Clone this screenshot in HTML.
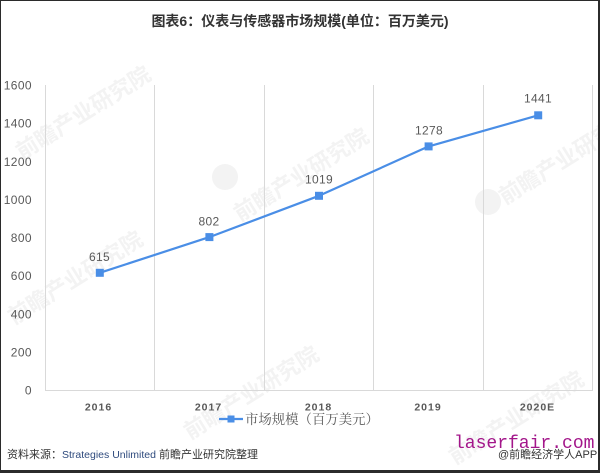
<!DOCTYPE html>
<html><head><meta charset="utf-8"><style>
html,body{margin:0;padding:0;background:#fff;}
svg{display:block;}
</style></head><body>
<svg width="600" height="473" viewBox="0 0 600 473" xmlns="http://www.w3.org/2000/svg">
<rect x="0" y="0" width="600" height="473" fill="#ffffff"/>
<!-- watermarks -->
<g fill="#f3f3f3" font-family="'Noto Sans CJK SC', sans-serif" font-weight="bold">
  <text x="0" y="0" font-size="22" transform="translate(22,160) rotate(-32)">前瞻产业研究院</text>
  <text x="0" y="0" font-size="22" transform="translate(14,325) rotate(-32)">前瞻产业研究院</text>
  <text x="0" y="0" font-size="22" transform="translate(240,222) rotate(-32)">前瞻产业研究院</text>
  <text x="0" y="0" font-size="22" transform="translate(190,440) rotate(-32)">前瞻产业研究院</text>
  <text x="0" y="0" font-size="22" transform="translate(505,205) rotate(-32)">前瞻产业研究院</text>
  <text x="0" y="0" font-size="22" transform="translate(455,465) rotate(-32)">前瞻产业研究院</text>
  <circle cx="225" cy="177" r="13"/>
  <circle cx="488" cy="202" r="13"/>
</g>
<!-- title -->
<text x="300" y="26" text-anchor="middle" font-family="'Liberation Sans','Noto Sans CJK SC',sans-serif" font-size="14" font-weight="bold" fill="#333333">图表6：仪表与传感器市场规模(单位：百万美元)</text>
<!-- gridlines -->
<g stroke="#d9d9d9" stroke-width="1">
  <line x1="45.5" y1="85" x2="45.5" y2="390"/>
  <line x1="154.5" y1="85" x2="154.5" y2="390"/>
  <line x1="264.5" y1="85" x2="264.5" y2="390"/>
  <line x1="373.5" y1="85" x2="373.5" y2="390"/>
  <line x1="483.5" y1="85" x2="483.5" y2="390"/>
  <line x1="592.5" y1="85" x2="592.5" y2="390"/>
  <line x1="45" y1="390.5" x2="593" y2="390.5"/>
</g>
<!-- y labels -->
<g font-family="'Liberation Sans',sans-serif" font-size="12" fill="#595959" text-anchor="end" letter-spacing="0.4">
  <text x="32" y="89.5">1600</text>
  <text x="32" y="127.6">1400</text>
  <text x="32" y="165.8">1200</text>
  <text x="32" y="203.9">1000</text>
  <text x="32" y="242">800</text>
  <text x="32" y="280.2">600</text>
  <text x="32" y="318.3">400</text>
  <text x="32" y="356.4">200</text>
  <text x="32" y="394.5">0</text>
</g>
<!-- x labels -->
<g font-family="'Liberation Sans',sans-serif" font-size="10.5" font-weight="bold" fill="#595959" text-anchor="middle" letter-spacing="1">
  <text x="98.5" y="410.5">2016</text>
  <text x="208.5" y="410.5">2017</text>
  <text x="318.5" y="410.5">2018</text>
  <text x="428" y="410.5">2019</text>
  <text x="537.5" y="410.5">2020E</text>
</g>
<!-- series -->
<polyline points="99.8,272.8 209.4,237.1 319,195.8 428.6,146.4 538.2,115.3" fill="none" stroke="#4a8ee6" stroke-width="2.2" stroke-linejoin="round"/>
<g fill="#4a8ee6">
  <rect x="95.8" y="268.8" width="8" height="8"/>
  <rect x="205.4" y="233.1" width="8" height="8"/>
  <rect x="315" y="191.8" width="8" height="8"/>
  <rect x="424.6" y="142.4" width="8" height="8"/>
  <rect x="534.2" y="111.3" width="8" height="8"/>
</g>
<g font-family="'Liberation Sans',sans-serif" font-size="12" fill="#595959" text-anchor="middle" letter-spacing="0.3">
  <text x="99.5" y="261">615</text>
  <text x="209" y="225.3">802</text>
  <text x="319" y="183.6">1019</text>
  <text x="429" y="134.3">1278</text>
  <text x="538" y="102.6">1441</text>
</g>
<!-- legend -->
<line x1="219" y1="419" x2="243" y2="419" stroke="#4a8ee6" stroke-width="2.2"/>
<rect x="227.5" y="415.5" width="7" height="7" fill="#4a8ee6"/>
<text x="245" y="424" font-family="'Noto Serif CJK SC',serif" font-size="13.4" fill="#595959">市场规模（百万美元）</text>
<!-- source -->
<text x="7" y="458" font-family="'Liberation Sans','Noto Sans CJK SC',sans-serif" font-size="11" fill="#333333">资料来源：<tspan fill="#2e4a7d" font-size="10.5">Strategies Unlimited</tspan> 前瞻产业研究院整理</text>
<text x="454" y="448" font-family="'Liberation Mono',monospace" font-size="18" fill="#a3168a">laserfair.com</text>
<text x="498" y="458" font-family="'Liberation Sans','Noto Sans CJK SC',sans-serif" font-size="11" fill="#333333">@前瞻经济学人APP</text>
<!-- border -->
<rect x="0" y="0" width="600" height="1" fill="#2b2b2b"/>
<rect x="0" y="0" width="1" height="473" fill="#2b2b2b"/>
<rect x="598" y="0" width="2" height="473" fill="#2b2b2b"/>
<rect x="0" y="470" width="600" height="3" fill="#2b2b2b"/>
</svg>
</body></html>
